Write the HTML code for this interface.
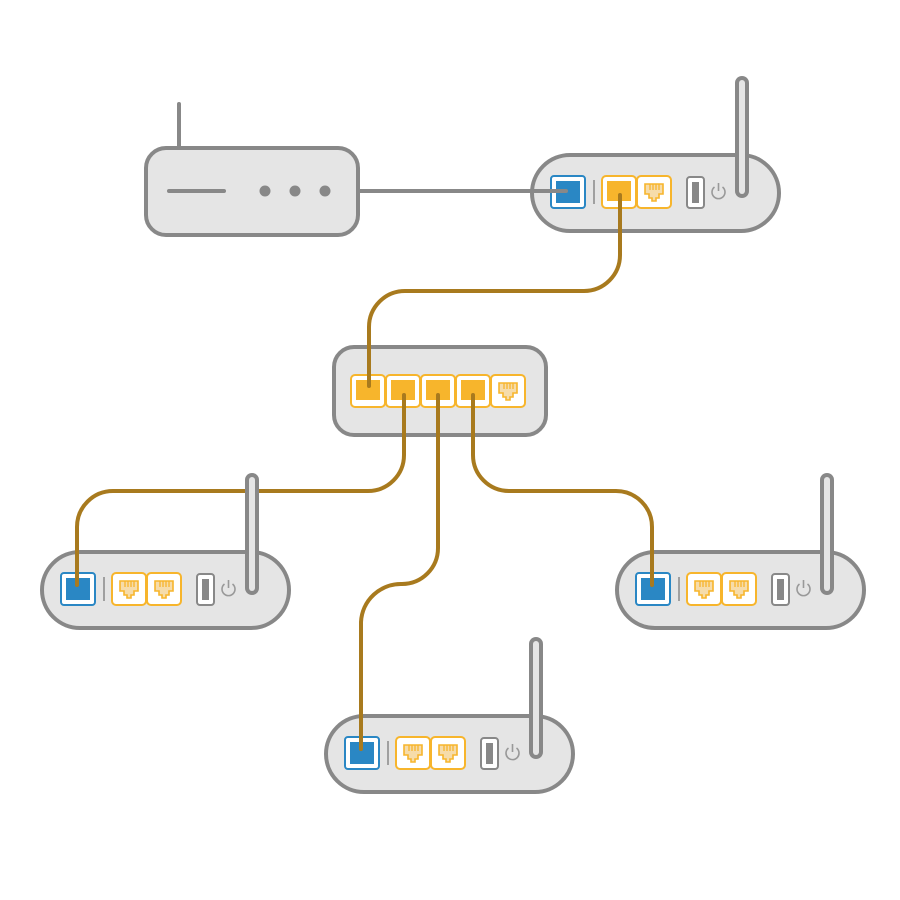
<!DOCTYPE html>
<html><head><meta charset="utf-8"><style>html,body{margin:0;padding:0;background:#fff}svg{display:block}</style></head>
<body>
<svg width="900" height="900" viewBox="0 0 900 900" xmlns="http://www.w3.org/2000/svg">
<defs>
<g id="jack">
  <rect x="0" y="0" width="34" height="32" rx="4" fill="#fff" stroke="#f7b52c" stroke-width="2"/>
  <path d="M8 8 H26 V18 H22 V22 H19 V25 H15 V22 H12 V18 H8 Z" fill="#f6dcaa" stroke="#f7b52c" stroke-width="1.6"/>
  <path d="M13 8 V14 M16 8 V14 M19 8 V14 M22 8 V14" stroke="#f7b52c" stroke-width="1.3"/>
</g>
<g id="litport">
  <rect x="0" y="0" width="34" height="32" rx="4" fill="#fff" stroke="#f7b52c" stroke-width="2"/>
  <rect x="5" y="5" width="24" height="20" fill="#f7b52c"/>
</g>
<g id="routerbody">
  <rect x="0" y="0" width="247" height="76" rx="38" fill="#e5e5e5" stroke="#888" stroke-width="4"/>
  <rect x="19" y="21" width="34" height="32" rx="3" fill="#fff" stroke="#2a87c4" stroke-width="2"/>
  <rect x="24" y="26" width="24" height="22" fill="#2a87c4"/>
  <line x1="62" y1="25" x2="62" y2="49" stroke="#999" stroke-width="1.8"/>
  <rect x="155" y="22" width="17" height="31" rx="3" fill="#fff" stroke="#888" stroke-width="2"/>
  <rect x="160" y="27" width="7" height="21" fill="#888"/>
  <path d="M182.5 32 A6.5 6.5 0 1 0 190.5 32" fill="none" stroke="#999" stroke-width="1.6"/>
  <line x1="186.5" y1="28" x2="186.5" y2="36" stroke="#999" stroke-width="1.6"/>
</g>
<g id="antenna">
  <line x1="0" y1="-72" x2="0" y2="36" stroke="#888" stroke-width="14" stroke-linecap="round"/>
  <line x1="0" y1="-72" x2="0" y2="36" stroke="#e5e5e5" stroke-width="6" stroke-linecap="round"/>
</g>
</defs>

<!-- modem -->
<line x1="179" y1="104" x2="179" y2="148" stroke="#888" stroke-width="4" stroke-linecap="round"/>
<line x1="358" y1="191" x2="565" y2="191" stroke="#888" stroke-width="4"/>
<rect x="146" y="148" width="212" height="87" rx="20" fill="#e5e5e5" stroke="#888" stroke-width="4"/>
<line x1="169" y1="191" x2="224" y2="191" stroke="#888" stroke-width="4" stroke-linecap="round"/>
<circle cx="265" cy="191" r="5.5" fill="#888"/>
<circle cx="295" cy="191" r="5.5" fill="#888"/>
<circle cx="325" cy="191" r="5.5" fill="#888"/>

<!-- routers bodies -->
<g transform="translate(532,155)"><use href="#routerbody"/><use href="#litport" x="70" y="21"/><use href="#jack" x="105" y="21"/></g>
<g transform="translate(42,552)"><use href="#routerbody"/><use href="#jack" x="70" y="21"/><use href="#jack" x="105" y="21"/></g>
<g transform="translate(617,552)"><use href="#routerbody"/><use href="#jack" x="70" y="21"/><use href="#jack" x="105" y="21"/></g>
<g transform="translate(326,716)"><use href="#routerbody"/><use href="#jack" x="70" y="21"/><use href="#jack" x="105" y="21"/></g>

<!-- modem cable over blue port -->
<line x1="520" y1="191" x2="566" y2="191" stroke="#888" stroke-width="4" stroke-linecap="round"/>

<!-- switch -->
<rect x="334" y="347" width="212" height="88" rx="20" fill="#e5e5e5" stroke="#888" stroke-width="4"/>
<use href="#litport" x="351" y="375"/>
<use href="#litport" x="386" y="375"/>
<use href="#litport" x="421" y="375"/>
<use href="#litport" x="456" y="375"/>
<use href="#jack" x="491" y="375"/>

<!-- cables -->
<g fill="none" stroke="#a87a1e" stroke-width="4" stroke-linecap="round">
<path d="M620 195 V255 A36 36 0 0 1 584 291 H405 A36 36 0 0 0 369 327 V386"/>
<path d="M404 395 V455 A36 36 0 0 1 368 491 H113 A36 36 0 0 0 77 527 V585"/>
<path d="M438 395 V548 A36 36 0 0 1 402 584 A40 40 0 0 0 361 622 V749"/>
<path d="M473 395 V455 A36 36 0 0 0 509 491 H616 A36 36 0 0 1 652 527 V585"/>
</g>

<!-- antennas -->
<use href="#antenna" x="742" y="155"/>
<use href="#antenna" x="252" y="552"/>
<use href="#antenna" x="827" y="552"/>
<use href="#antenna" x="536" y="716"/>
</svg>
</body></html>
